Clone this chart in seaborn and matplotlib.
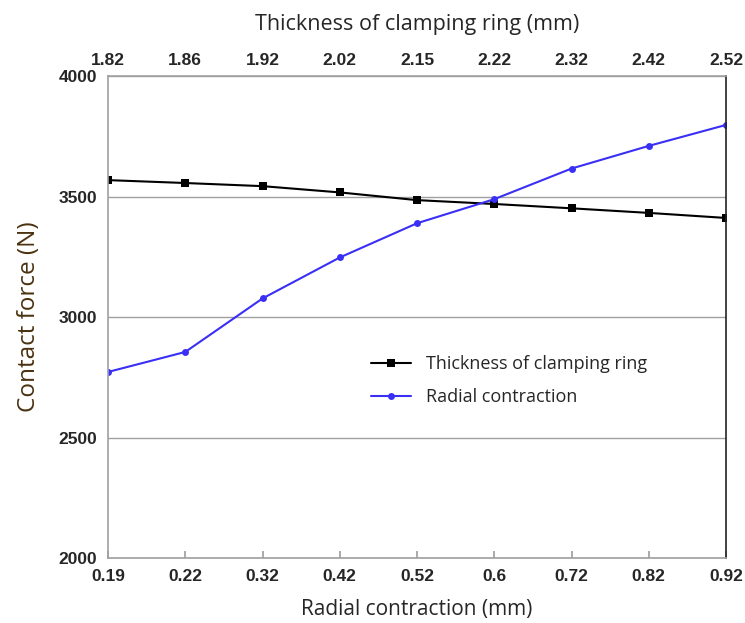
import matplotlib
matplotlib.use("Agg")
import matplotlib.pyplot as plt
import seaborn as sns
import pandas as pd
import numpy as np

radial_labels = ["0.19", "0.22", "0.32", "0.42", "0.52", "0.6", "0.72", "0.82", "0.92"]
thickness_labels = ["1.82", "1.86", "1.92", "2.02", "2.15", "2.22", "2.32", "2.42", "2.52"]
thickness_force = [3568, 3556, 3543, 3517, 3485, 3469, 3451, 3432, 3411]
radial_force = [2772, 2855, 3077, 3247, 3389, 3489, 3616, 3710, 3797]

sns.set_theme(style="white")
plt.rcParams['font.family'] = ['Liberation Sans', 'DejaVu Sans']

pos = np.arange(len(radial_labels))
df = pd.DataFrame({
    "pos": np.concatenate([pos, pos]),
    "force": thickness_force + radial_force,
    "series": ["Thickness of clamping ring"] * len(pos) + ["Radial contraction"] * len(pos),
})

fig = plt.figure(figsize=(7.45, 6.23), dpi=100)
ax = fig.add_axes([0.145, 0.1043, 0.8295, 0.7737])

sns.lineplot(data=df[df.series == "Thickness of clamping ring"], x="pos", y="force",
             color="black", marker="s", markersize=6, markeredgewidth=0, lw=1.5,
             label="Thickness of clamping ring", ax=ax)
sns.lineplot(data=df[df.series == "Radial contraction"], x="pos", y="force",
             color="#3a2ff5", marker="o", markersize=5, markeredgewidth=0, lw=1.5,
             label="Radial contraction", ax=ax)

ax.set_xlim(0, len(pos) - 1)
ax.set_ylim(2000, 4000)
ax.set_yticks([2000, 2500, 3000, 3500, 4000])
ax.yaxis.grid(True, color="#a0a0a0", lw=1)
ax.set_xticks(pos)
ax.set_xticklabels(radial_labels, fontsize=12.5, fontweight="bold")
ax.set_yticklabels(["2000", "2500", "3000", "3500", "4000"], fontsize=12.5, fontweight="bold")
ax.tick_params(axis="x", direction="in", length=5, color="#a0a0a0", pad=8)
ax.tick_params(axis="y", length=0, pad=8)
ax.set_xlabel("Radial contraction (mm)", fontsize=15, family=["Open Sans", "DejaVu Sans"], labelpad=11)
ax.set_ylabel("Contact force (N)", fontsize=17.5, color="#4a3210", family=["Open Sans", "DejaVu Sans"], labelpad=12)
for s in ["left", "bottom", "top"]:
    ax.spines[s].set_color("#a0a0a0")
    ax.spines[s].set_linewidth(1.2)
ax.spines["right"].set_color("#222222")
ax.spines["right"].set_linewidth(1.2)

ax2 = ax.twiny()
ax2.set_xlim(ax.get_xlim())
ax2.set_xticks(pos)
ax2.set_xticklabels(thickness_labels, fontsize=12.5, fontweight="bold")
ax2.tick_params(axis="x", length=0, pad=6)
ax2.set_xlabel("Thickness of clamping ring (mm)", fontsize=15.5, family=["Open Sans", "DejaVu Sans"], labelpad=16)
for s in ax2.spines.values():
    s.set_visible(False)

leg = ax.legend(loc="upper left", bbox_to_anchor=(0.4, 0.455), frameon=False,
                prop={"family": ["Open Sans", "DejaVu Sans"], "size": 13},
                handlelength=2.2, labelspacing=0.85)

fig.savefig("out.png", dpi=100)
